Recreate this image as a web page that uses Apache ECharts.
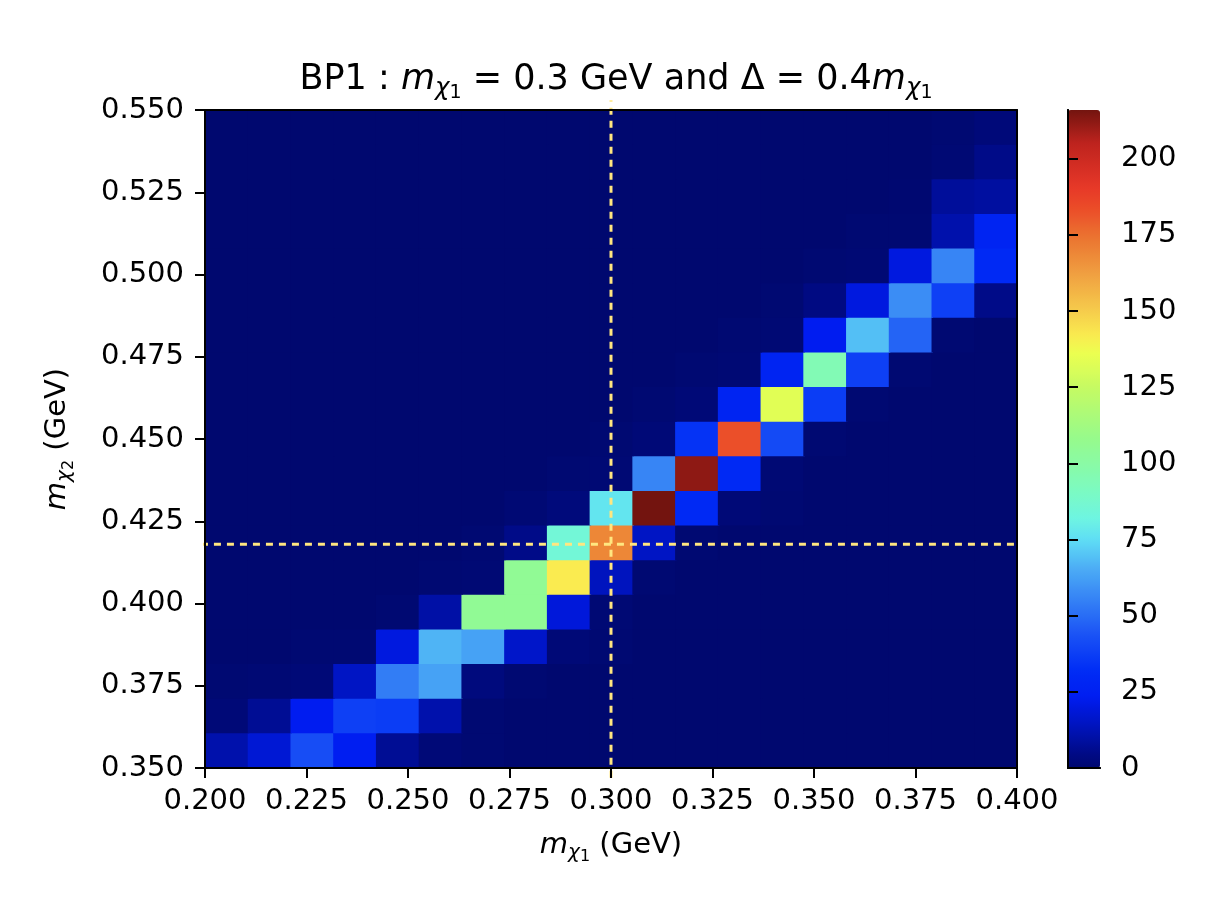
<!DOCTYPE html>
<html>
<head>
<meta charset="utf-8">
<script src="https://cdn.jsdelivr.net/npm/echarts@6/dist/echarts.min.js"></script>
<style>
  html, body { margin: 0; background: #fff; }
  #chart { width: 1230px; height: 900px; }
</style>
</head>
<body>
<div id="chart"></div>
<script>
// 2D histogram of (m_chi1, m_chi2), 19 x 19 bins
// rows go from the bottom (m_chi2 = 0.35) to the top (0.55)
const xRange = [0.2, 0.4];
const yRange = [0.35, 0.55];
const nBins = 19;
const counts = [
  [11, 18, 42, 24, 7, 1.5, 0.5, 0, 0, 0, 0, 0, 0, 0, 0, 0, 0, 0, 0],
  [1.5, 7, 23, 38, 37, 11, 0.5, 0, 0, 0, 0, 0, 0, 0, 0, 0, 0, 0, 0],
  [0.5, 1, 1.5, 15, 54, 63, 3, 0.5, 0, 0, 0, 0, 0, 0, 0, 0, 0, 0, 0],
  [0, 0, 0.5, 0.5, 20, 67, 63, 16, 1.5, 0.5, 0, 0, 0, 0, 0, 0, 0, 0, 0],
  [0, 0, 0, 0, 0.5, 10, 105, 105, 19, 1, 0, 0, 0, 0, 0, 0, 0, 0, 0],
  [0, 0, 0, 0, 0, 0.5, 1, 105, 142, 14, 0.5, 0, 0, 0, 0, 0, 0, 0, 0],
  [0, 0, 0, 0, 0, 0, 0.5, 5, 85, 169, 15, 0.5, 0, 0, 0, 0, 0, 0, 0],
  [0, 0, 0, 0, 0, 0, 0, 1, 2.5, 77, 216, 30, 1.5, 0.5, 0, 0, 0, 0, 0],
  [0, 0, 0, 0, 0, 0, 0, 0, 0.5, 1, 56, 212, 30, 1, 0, 0, 0, 0, 0],
  [0, 0, 0, 0, 0, 0, 0, 0, 0, 0.5, 1.5, 34, 183, 41, 0.5, 0, 0, 0, 0],
  [0, 0, 0, 0, 0, 0, 0, 0, 0, 0, 0.5, 1.5, 27, 133, 37, 0.5, 0, 0, 0],
  [0, 0, 0, 0, 0, 0, 0, 0, 0, 0, 0, 0.5, 1, 27, 95, 38, 0.5, 0, 0],
  [0, 0, 0, 0, 0, 0, 0, 0, 0, 0, 0, 0, 0.5, 1, 23, 69, 48, 0.5, 0],
  [0, 0, 0, 0, 0, 0, 0, 0, 0, 0, 0, 0, 0, 0.5, 4, 20, 58, 38, 5],
  [0, 0, 0, 0, 0, 0, 0, 0, 0, 0, 0, 0, 0, 0, 0.5, 1, 20, 56, 30],
  [0, 0, 0, 0, 0, 0, 0, 0, 0, 0, 0, 0, 0, 0, 0, 0.5, 0.5, 11, 27],
  [0, 0, 0, 0, 0, 0, 0, 0, 0, 0, 0, 0, 0, 0, 0, 0, 0.3, 8, 9],
  [0, 0, 0, 0, 0, 0, 0, 0, 0, 0, 0, 0, 0, 0, 0, 0, 0, 1, 5],
  [0, 0, 0, 0, 0, 0, 0, 0, 0, 0, 0, 0, 0, 0, 0, 0, 0, 0.5, 2]
];
const countMax = 216;
const cbTicks = [0, 25, 50, 75, 100, 125, 150, 175, 200];
// BP1 reference point (dashed lines)
const refX = 0.3;
const refY = 0.418;
const vLineSpan = [0.347, 0.553];
const hLineSpan = [0.199, 0.401];

const FONT = 'DejaVu Sans';

// colour scale as seen on the colorbar (jet-like): [count, colour]
const cmapStops = [
  [0, '#00086f'], [4, '#000a82'], [14, '#0014be'], [23, '#001cf0'],
  [32, '#002df5'], [43, '#1950f5'], [54, '#327df5'], [65, '#4baaf5'],
  [75, '#5fdef5'], [82, '#6ef5e1'], [92, '#7dfabe'], [108, '#96fa8c'],
  [124, '#c3fa64'], [136, '#ebff50'], [142, '#faeb50'], [151, '#f5c84b'],
  [162, '#f0a041'], [173, '#eb7832'], [184, '#eb4b28'], [191, '#e63728'],
  [205, '#be231e'], [216, '#73140f']
];
function hexRgb(h) {
  return [1, 3, 5].map(k => parseInt(h.slice(k, k + 2), 16));
}
function cmapAt(v) {
  for (let i = 1; i < cmapStops.length; i++) {
    if (v <= cmapStops[i][0]) {
      const a = cmapStops[i - 1], b = cmapStops[i];
      const f = (v - a[0]) / (b[0] - a[0]);
      const ca = hexRgb(a[1]), cb = hexRgb(b[1]);
      return 'rgb(' + ca.map((c, k) => Math.round(c + (cb[k] - c) * f)).join(',') + ')';
    }
  }
  return cmapStops[cmapStops.length - 1][1];
}
const rampColors = [];
for (let v = 0; v <= countMax; v += 1) rampColors.push(cmapAt(v));

// cells: [x0, x1, y0, y1, count]
const dx = (xRange[1] - xRange[0]) / nBins;
const dy = (yRange[1] - yRange[0]) / nBins;
const cells = [];
counts.forEach((row, j) => {
  row.forEach((v, i) => {
    cells.push([xRange[0] + i * dx, xRange[0] + (i + 1) * dx,
                yRange[0] + j * dy, yRange[0] + (j + 1) * dy, v]);
  });
});

// mathtext-like rich styles: main text, italic, subscript, sub-subscript
function mathRich(size, subSize, subSubSize, padMain, padSub, padSubSub) {
  const base = { fontFamily: FONT, color: '#000', fontWeight: 'normal', verticalAlign: 'bottom' };
  return {
    n: Object.assign({}, base, { fontSize: size, padding: [0, 0, padMain, 0] }),
    mi: Object.assign({}, base, { fontSize: size, fontStyle: 'italic', padding: [0, 0, padMain, 0] }),
    si: Object.assign({}, base, { fontSize: subSize, fontStyle: 'italic', padding: [0, 0, padSub, 0] }),
    ss: Object.assign({}, base, { fontSize: subSubSize, padding: [0, 0, padSubSub, 0] })
  };
}

const blackLine = { show: true, lineStyle: { color: '#000', width: 2 } };
const frameAxis = (gridIndex, position, min, max) => ({
  type: 'value', gridIndex, position, min, max, z: 10,
  axisLine: blackLine, axisTick: { show: false }, axisLabel: { show: false }, splitLine: { show: false }
});
const tickStyle = { show: true, inside: false, length: 10, lineStyle: { color: '#000', width: 2 } };
const labelStyle = { fontFamily: FONT, fontSize: 29, color: '#000' };

const chart = echarts.init(document.getElementById('chart'), null, { renderer: 'canvas' });

const option = {
  backgroundColor: '#fff',
  animation: false,
  title: {
    text: '{n|BP1 : }{mi|m}{si|χ}{ss|1}{n| = 0.3 GeV and Δ = 0.4}{mi|m}{si|χ}{ss|1}',
    left: 611,
    top: 57,
    textAlign: 'center',
    textStyle: { fontWeight: 'normal', rich: mathRich(35, 24.5, 19, 6, 2, 0) }
  },
  grid: [
    { left: 205, top: 110, width: 812, height: 658 },
    { left: 1068, top: 110, width: 32, height: 658 }
  ],
  xAxis: [
    {
      type: 'value', gridIndex: 0, position: 'bottom', min: xRange[0], max: xRange[1], interval: 0.025, z: 10,
      axisLine: blackLine, axisTick: tickStyle, splitLine: { show: false },
      axisLabel: Object.assign({ margin: 19, formatter: v => v.toFixed(3) }, labelStyle),
      name: '{mi|m}{si|χ}{ss|1}{n| (GeV)}', nameLocation: 'middle', nameGap: 63,
      nameTextStyle: { rich: mathRich(29, 20, 16, 5, 2, 0) }
    },
    frameAxis(0, 'top', xRange[0], xRange[1]),
    frameAxis(1, 'bottom', 0, 1),
    frameAxis(1, 'top', 0, 1)
  ],
  yAxis: [
    {
      type: 'value', gridIndex: 0, position: 'left', min: yRange[0], max: yRange[1], interval: 0.025, z: 10,
      axisLine: blackLine, axisTick: tickStyle, splitLine: { show: false },
      axisLabel: Object.assign({ margin: 21, formatter: v => v.toFixed(3) }, labelStyle),
      name: '{mi|m}{si|χ}{ss|2}{n| (GeV)}', nameLocation: 'middle', nameGap: 128, nameRotate: 90,
      nameTextStyle: { rich: mathRich(29, 20, 16, 5, 2, 0) }
    },
    frameAxis(0, 'right', yRange[0], yRange[1]),
    {
      type: 'value', gridIndex: 1, position: 'right', min: 0, max: countMax, z: 10,
      axisLine: blackLine, splitLine: { show: false },
      axisTick: Object.assign({ customValues: cbTicks }, tickStyle),
      axisLabel: Object.assign({ margin: 21, customValues: cbTicks }, labelStyle)
    },
    frameAxis(1, 'left', 0, countMax)
  ],
  visualMap: {
    type: 'continuous',
    min: 0,
    max: countMax,
    dimension: 4,
    seriesIndex: 0,
    calculable: false,
    orient: 'vertical',
    left: 1068,
    top: 110,
    itemWidth: 32,
    itemHeight: 658,
    padding: 0,
    text: null,
    inRange: { color: rampColors }
  },
  series: [
    {
      type: 'custom',
      xAxisIndex: 0,
      yAxisIndex: 0,
      data: cells,
      encode: { x: [0, 1], y: [2, 3] },
      renderItem: (params, api) => {
        const p0 = api.coord([api.value(0), api.value(3)]);
        const p1 = api.coord([api.value(1), api.value(2)]);
        const cs = params.coordSys;
        // overlap each cell into its later-drawn neighbours so no seams show,
        // but keep it inside the plot frame
        const top = Math.max(cs.y, p0[1] - 1.5);
        const right = Math.min(cs.x + cs.width, p1[0] + 1.5);
        return {
          type: 'rect',
          shape: { x: p0[0], y: top, width: right - p0[0], height: p1[1] - top },
          style: { fill: api.visual('color') }
        };
      },
      z: 2
    },
    {
      type: 'line', xAxisIndex: 0, yAxisIndex: 0, clip: false, symbol: 'none', z: 5,
      data: [[refX, vLineSpan[0]], [refX, vLineSpan[1]]],
      lineStyle: { color: '#ffe680', width: 3, type: [7, 6] }
    },
    {
      type: 'line', xAxisIndex: 0, yAxisIndex: 0, clip: false, symbol: 'none', z: 5,
      data: [[hLineSpan[0], refY], [hLineSpan[1], refY]],
      lineStyle: { color: '#ffe680', width: 3, type: [7, 6] }
    }
  ]
};

chart.setOption(option);
</script>
</body>
</html>
